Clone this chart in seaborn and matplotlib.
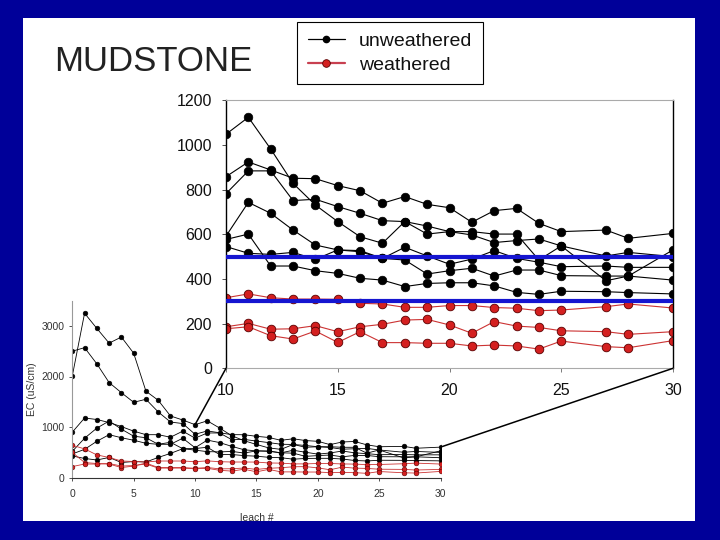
import matplotlib
matplotlib.use("Agg")
import matplotlib.pyplot as plt
import seaborn as sns
import pandas as pd
from matplotlib.lines import Line2D
from matplotlib.patches import Rectangle, ConnectionPatch

# ---------------- data ----------------
leach = list(range(0, 26)) + [27, 28, 30]

unw_1 = [2010, 3250, 2950, 2660, 2780, 2460, 1710, 1530, 1220, 1140,
         1048, 1124, 982, 828, 731, 657, 589, 560, 657, 601, 612, 612, 601, 601, 485, 548, 503, 519, 500]
unw_2 = [2500, 2570, 2250, 1880, 1680, 1490, 1550, 1300, 1100, 1070,
         858, 924, 888, 851, 849, 818, 795, 739, 769, 734, 719, 654, 706, 716, 649, 612, 619, 582, 604]
unw_3 = [900, 1180, 1150, 1090, 1010, 920, 850, 850, 800, 920,
         782, 884, 884, 751, 757, 724, 694, 661, 657, 637, 612, 597, 563, 572, 579, 548, 392, 413, 530]
unw_4 = [520, 780, 980, 1120, 960, 820, 790, 660, 660, 780,
         592, 743, 694, 619, 552, 530, 522, 492, 542, 503, 466, 489, 527, 492, 475, 455, 458, 452, 452]
unw_5 = [470, 560, 720, 850, 790, 740, 680, 660, 700, 573,
         577, 601, 458, 458, 437, 425, 403, 395, 366, 380, 383, 383, 369, 340, 331, 345, 343, 339, 333]
unw_6 = [430, 380, 350, 400, 300, 320, 310, 400, 480, 573,
         545, 515, 510, 519, 488, 530, 527, 492, 485, 422, 437, 448, 413, 440, 440, 415, 413, 413, 395]

wea_1 = [640, 570, 450, 400, 330, 320, 310, 330, 330, 330,
         316, 333, 316, 310, 310, 309, 291, 288, 273, 273, 281, 281, 272, 269, 258, 261, 276, 288, 270]
wea_2 = [500, 300, 280, 270, 200, 230, 290, 200, 200, 200,
         186, 201, 175, 177, 191, 164, 186, 197, 216, 219, 194, 157, 209, 189, 183, 168, 164, 152, 164]
wea_3 = [220, 270, 270, 280, 230, 240, 270, 190, 190, 190,
         177, 186, 146, 131, 167, 116, 164, 115, 115, 112, 112, 100, 104, 100, 86, 122, 97, 92, 124]

ref_levels = [500, 300]
zoom_range = [10, 30]
main_yticks = [0, 200, 400, 600, 800, 1000, 1200]
main_xticks = [10, 15, 20, 25, 30]
small_yticks = [0, 1000, 2000, 3000]
small_xticks = [0, 5, 10, 15, 20, 25, 30]

unw_series = {"u1": unw_1, "u2": unw_2, "u3": unw_3, "u4": unw_4, "u5": unw_5, "u6": unw_6}
wea_series = {"w1": wea_1, "w2": wea_2, "w3": wea_3}

rows = []
for name, vals in unw_series.items():
    for x, v in zip(leach, vals):
        rows.append(dict(sample=name, kind="unweathered", leach=x, EC=v))
for name, vals in wea_series.items():
    for x, v in zip(leach, vals):
        rows.append(dict(sample=name, kind="weathered", leach=x, EC=v))
df = pd.DataFrame(rows)
df_u = df[df.kind == "unweathered"]
df_w = df[df.kind == "weathered"]

# ---------------- style ----------------
sns.set_style("ticks")
plt.rcParams['font.family'] = ['Liberation Sans', 'DejaVu Sans']

BG = "#000099"
BLACK = "black"
RED_LINE = "#cc3333"
RED_FACE = "#d42020"
RED_EDGE = "#5a0000"
BLUE = "#1515d0"

fig = plt.figure(figsize=(7.2, 5.4), dpi=100)
fig.patch.set_facecolor(BG)
fig.add_artist(Rectangle((23 / 720, 1 - 521 / 540), (695 - 23) / 720, (521 - 18) / 540,
                         transform=fig.transFigure, facecolor="white", edgecolor="none", zorder=-10))

ax_s = fig.add_axes([72.3 / 720, 1 - 477.7 / 540, 368.2 / 720, 177.1 / 540])
ax_m = fig.add_axes([226 / 720, 1 - 368.3 / 540, 447 / 720, 268 / 540])
for a in (ax_s, ax_m):
    a.set_facecolor("none")

# ---------------- small (full) chart ----------------
sns.lineplot(data=df_u, x="leach", y="EC", units="sample", estimator=None, sort=False,
             color=BLACK, marker="o", markersize=3.4, markeredgecolor=BLACK,
             markeredgewidth=0.4, linewidth=0.6, ax=ax_s, legend=False)
sns.lineplot(data=df_w, x="leach", y="EC", units="sample", estimator=None, sort=False,
             color=RED_LINE, marker="o", markersize=3.4, markerfacecolor=RED_FACE,
             markeredgecolor=RED_EDGE, markeredgewidth=0.4, linewidth=0.6, ax=ax_s, legend=False)
ax_s.set_xlim(0, 30)
ax_s.set_ylim(0, 3500)
ax_s.set_xticks(small_xticks)
ax_s.set_yticks(small_yticks)
ax_s.spines["top"].set_visible(False)
ax_s.spines["right"].set_visible(False)
ax_s.spines["left"].set_color("#999999")
ax_s.spines["left"].set_linewidth(0.8)
ax_s.spines["bottom"].set_color("#333333")
ax_s.spines["bottom"].set_linewidth(0.8)
ax_s.tick_params(axis="x", direction="out", length=2, width=0.6, pad=6, labelsize=7.5,
                 colors="#333333")
ax_s.tick_params(axis="y", direction="out", length=2, width=0.6, pad=3.5, labelsize=7.5,
                 colors="#333333")
ax_s.set_xlabel("leach #", fontsize=7.5, color="#333333", labelpad=10)
ax_s.set_ylabel("EC (uS/cm)", fontsize=7.5, color="#333333", labelpad=3)

# ---------------- main (zoomed) chart ----------------
df_um = df_u[df_u.leach >= zoom_range[0]]
df_wm = df_w[df_w.leach >= zoom_range[0]]
sns.lineplot(data=df_um, x="leach", y="EC", units="sample", estimator=None, sort=False,
             color=BLACK, marker="o", markersize=6.2, markeredgecolor=BLACK,
             markeredgewidth=0.5, linewidth=0.8, ax=ax_m, legend=False)
sns.lineplot(data=df_wm, x="leach", y="EC", units="sample", estimator=None, sort=False,
             color=RED_LINE, marker="o", markersize=6.2, markerfacecolor=RED_FACE,
             markeredgecolor=RED_EDGE, markeredgewidth=0.6, linewidth=0.8, ax=ax_m, legend=False)
ax_m.hlines(ref_levels, zoom_range[0], zoom_range[1], color=BLUE, linewidth=3, zorder=6,
            clip_on=False)
ax_m.set_xlim(*zoom_range)
ax_m.set_ylim(0, 1200)
ax_m.set_xticks(main_xticks)
ax_m.set_yticks(main_yticks)
ax_m.set_xlabel("")
ax_m.set_ylabel("")
for side in ("left", "right"):
    ax_m.spines[side].set_color("black")
    ax_m.spines[side].set_linewidth(1.0)
for side in ("top", "bottom"):
    ax_m.spines[side].set_color("#aaaaaa")
    ax_m.spines[side].set_linewidth(0.8)
ax_m.tick_params(axis="x", direction="out", length=3, width=0.6, pad=7.5, labelsize=11.5,
                 color="#666666", labelcolor="#111111")
ax_m.tick_params(axis="y", direction="out", length=3, width=0.6, pad=7, labelsize=11.5,
                 color="#333333", labelcolor="#111111")

# ---------------- connector lines ----------------
i10 = leach.index(zoom_range[0])
i30 = leach.index(zoom_range[1])
all_vals = list(unw_series.values()) + list(wea_series.values())
top10 = max(v[i10] for v in all_vals)
top30 = max(v[i30] for v in all_vals)
for xs, ys in ((zoom_range[0], top10), (zoom_range[1], top30)):
    con = ConnectionPatch(xyA=(xs, ys), coordsA=ax_s.transData,
                          xyB=(xs, 0), coordsB=ax_m.transData,
                          color="black", linewidth=1.1)
    fig.add_artist(con)

# ---------------- title & legend ----------------
fig.text(54 / 720, 1 - 70.7 / 540, "MUDSTONE", fontsize=25, color="#222222", va="baseline")

handles = [
    Line2D([0], [0], color="black", lw=0.9, marker="o", markersize=4.5,
           markerfacecolor="black", markeredgecolor="black"),
    Line2D([0], [0], color="#c84050", lw=1.6, marker="o", markersize=5.5,
           markerfacecolor=RED_FACE, markeredgecolor=RED_EDGE, markeredgewidth=0.6),
]
leg = fig.legend(handles, ["unweathered", "weathered"], loc="upper left",
                 bbox_to_anchor=(297 / 720, 1 - 22 / 540), frameon=True, fancybox=False,
                 edgecolor="black", framealpha=1, fontsize=14, handlelength=1.9,
                 handletextpad=0.75, borderpad=0.55, labelspacing=0.3, borderaxespad=0)
leg.get_frame().set_linewidth(0.8)
for t in leg.get_texts():
    t.set_color("#111111")

fig.savefig("out.png", dpi=100, facecolor=BG)
